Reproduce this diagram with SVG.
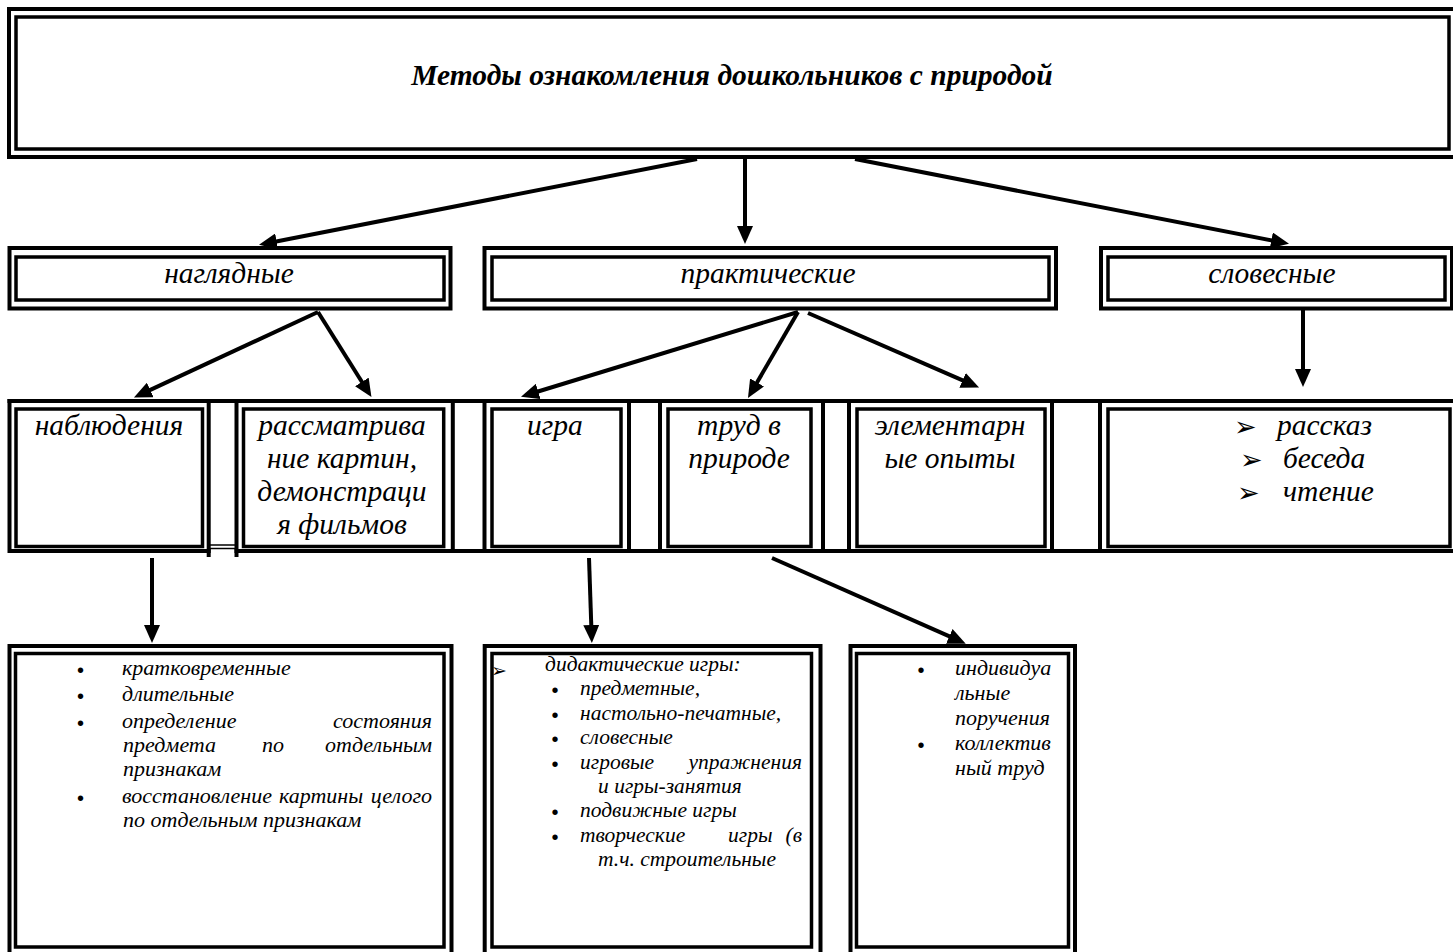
<svg xmlns="http://www.w3.org/2000/svg" width="1453" height="952" viewBox="0 0 1453 952">
<defs>
<marker id="ah" markerUnits="userSpaceOnUse" markerWidth="20" markerHeight="16" refX="7" refY="8" orient="auto"><path d="M0,0 L18,8 L0,16 z" fill="#000"/></marker>
</defs>
<style>
.o{fill:none;stroke:#000;stroke-width:4}
.i{fill:none;stroke:#000;stroke-width:3.5}
.t{font-family:"Liberation Serif","Times New Roman",serif;font-style:italic;fill:#000}
.big{font-size:29.5px}
.sm{font-size:22px}
.sm2{font-size:21.5px}
.title{font-size:29.5px;font-weight:bold}
.c{text-anchor:middle}
.e{text-anchor:end}
.bul{font-family:"Liberation Sans",Arial,sans-serif;font-size:20px;text-anchor:middle;fill:#000}
.arr{font-family:"DejaVu Sans",sans-serif;fill:#000}
.ln{stroke:#000;stroke-width:4;fill:none;marker-end:url(#ah)}
.thin{stroke:#000;stroke-width:1.5;fill:none}
.seg{stroke:#000;stroke-width:4;fill:none}
</style>
<rect width="1453" height="952" fill="#fff"/>

<g id="title">
<rect class="o" x="9" y="9" width="1451" height="148"/>
<rect class="i" x="16" y="17" width="1433" height="132"/>
<text class="t title c" x="732" y="85">Методы ознакомления дошкольников с природой</text>
</g>

<g id="naglyadnye">
<rect class="o" x="9.5" y="248" width="441" height="60.5"/>
<rect class="i" x="16" y="257" width="428" height="43"/>
<text class="t big c" x="229" y="283">наглядные</text>
</g>
<g id="prakticheskie">
<rect class="o" x="484.5" y="248" width="571.5" height="60.5"/>
<rect class="i" x="492" y="257" width="557" height="43"/>
<text class="t big c" x="768" y="283">практические</text>
</g>
<g id="slovesnye">
<rect class="o" x="1101" y="248" width="351" height="60.5"/>
<rect class="i" x="1108" y="257" width="337" height="43"/>
<text class="t big c" x="1272" y="283">словесные</text>
</g>

<g id="table-frame">
<line class="seg" x1="7.5" y1="401" x2="1453" y2="401"/>
<line class="seg" x1="236.5" y1="551" x2="1453" y2="551"/>
<line class="seg" x1="208.7" y1="549" x2="208.7" y2="557"/>
<line class="seg" x1="236.5" y1="549" x2="236.5" y2="557"/>
<line class="thin" x1="210" y1="545" x2="235" y2="545"/>
<line class="thin" x1="210" y1="548.5" x2="235" y2="548.5"/>
</g>

<g id="nablyudeniya">
<rect class="o" x="9.5" y="401" width="199.2" height="150"/>
<rect class="i" x="16" y="409" width="186.5" height="137.5"/>
<text class="t big c" x="109" y="435">наблюдения</text>
</g>
<g id="rassmatrivanie">
<rect class="o" x="236.5" y="401" width="216.3" height="150"/>
<rect class="i" x="243.5" y="409" width="200.2" height="137.5"/>
<text class="t big c" x="342" y="435">рассматрива</text>
<text class="t big c" x="342" y="468">ние картин,</text>
<text class="t big c" x="342" y="501">демонстраци</text>
<text class="t big c" x="342" y="534">я фильмов</text>
</g>
<g id="igra">
<rect class="o" x="484.5" y="401" width="144.5" height="150"/>
<rect class="i" x="492" y="409" width="129" height="137.5"/>
<text class="t big c" x="555" y="435">игра</text>
</g>
<g id="trud">
<rect class="o" x="660" y="401" width="163" height="150"/>
<rect class="i" x="668" y="409" width="143" height="137.5"/>
<text class="t big c" x="739" y="435">труд в</text>
<text class="t big c" x="739" y="468">природе</text>
</g>
<g id="opyty">
<rect class="o" x="849" y="401" width="203" height="150"/>
<rect class="i" x="857" y="409" width="188" height="137.5"/>
<text class="t big c" x="950" y="435">элементарн</text>
<text class="t big c" x="950" y="468">ые опыты</text>
</g>
<g id="slovesnye-list">
<rect class="o" x="1100" y="401" width="360" height="150"/>
<rect class="i" x="1108" y="409" width="342" height="137.5"/>
<text class="arr" x="1234" y="436" font-size="27">➢</text>
<text class="t big" x="1277" y="435">рассказ</text>
<text class="arr" x="1240" y="469" font-size="27">➢</text>
<text class="t big" x="1283" y="468">беседа</text>
<text class="arr" x="1237" y="502" font-size="27">➢</text>
<text class="t big" x="1283" y="501">чтение</text>
</g>

<g id="vidy-nablyudeniy">
<rect class="o" x="9.5" y="646" width="442" height="310"/>
<rect class="i" x="15.5" y="653.5" width="428.5" height="293.5"/>
<text class="bul" x="80.5" y="677.4">•</text>
<text class="t sm" x="122" y="675">кратковременные</text>
<text class="bul" x="80.5" y="703.4">•</text>
<text class="t sm" x="122" y="701">длительные</text>
<text class="bul" x="80.5" y="730.4">•</text>
<text class="t sm" x="122" y="728">определение</text>
<text class="t sm e" x="432" y="728">состояния</text>
<text class="t sm" x="123" y="752">предмета</text>
<text class="t sm" x="262" y="752">по</text>
<text class="t sm e" x="432" y="752">отдельным</text>
<text class="t sm" x="123" y="776">признакам</text>
<text class="bul" x="80.5" y="805.4">•</text>
<text class="t sm" x="122" y="803">восстановление</text>
<text class="t sm" x="279" y="803">картины</text>
<text class="t sm e" x="432" y="803">целого</text>
<text class="t sm" x="123" y="827">по отдельным признакам</text>
</g>

<g id="vidy-igr">
<rect class="o" x="484.7" y="646" width="335.8" height="310"/>
<rect class="i" x="492" y="653.5" width="319.5" height="293.5"/>
<text class="arr" x="491" y="677" font-size="19">➢</text>
<text class="t sm2" x="545" y="671">дидактические игры:</text>
<text class="bul" x="555" y="697.4">•</text>
<text class="t sm2" x="580" y="695">предметные,</text>
<text class="bul" x="555" y="722.4">•</text>
<text class="t sm2" x="580" y="720">настольно-печатные,</text>
<text class="bul" x="555" y="746.4">•</text>
<text class="t sm2" x="580" y="744">словесные</text>
<text class="bul" x="555" y="771.4">•</text>
<text class="t sm2" x="580" y="769">игровые</text>
<text class="t sm2 e" x="802" y="769">упражнения</text>
<text class="t sm2" x="598" y="793">и игры-занятия</text>
<text class="bul" x="555" y="819.4">•</text>
<text class="t sm2" x="580" y="817">подвижные игры</text>
<text class="bul" x="555" y="844.4">•</text>
<text class="t sm2" x="580" y="842">творческие</text>
<text class="t sm2" x="728" y="842">игры</text>
<text class="t sm2 e" x="802" y="842">(в</text>
<text class="t sm2" x="598" y="866">т.ч. строительные</text>
</g>

<g id="vidy-truda">
<rect class="o" x="850.5" y="646" width="224.5" height="310"/>
<rect class="i" x="856.5" y="653.5" width="212" height="293.5"/>
<text class="bul" x="921" y="677.4">•</text>
<text class="t sm" x="955" y="675">индивидуа</text>
<text class="t sm" x="955" y="700">льные</text>
<text class="t sm" x="955" y="725">поручения</text>
<text class="bul" x="921" y="752.4">•</text>
<text class="t sm" x="955" y="750">коллектив</text>
<text class="t sm" x="955" y="775">ный труд</text>
</g>

<g id="connectors">
<line class="ln" x1="697" y1="159" x2="269.8" y2="242.7"/>
<line class="ln" x1="745" y1="159" x2="745" y2="233"/>
<line class="ln" x1="855" y1="159" x2="1278.2" y2="241.7"/>
<line class="ln" x1="318" y1="312" x2="143.9" y2="392.9"/>
<line class="ln" x1="318" y1="312" x2="365.6" y2="387.8"/>
<line class="ln" x1="798" y1="312" x2="531.5" y2="393.5"/>
<line class="ln" x1="798" y1="312" x2="753.5" y2="388.5"/>
<line class="ln" x1="808" y1="313" x2="969" y2="383.2"/>
<line class="ln" x1="1303" y1="307" x2="1303" y2="376"/>
<line class="ln" x1="152" y1="558" x2="152" y2="632"/>
<line class="ln" x1="589" y1="558" x2="591.5" y2="632"/>
<line class="ln" x1="772" y1="558" x2="955.7" y2="639.2"/>
</g>
</svg>
